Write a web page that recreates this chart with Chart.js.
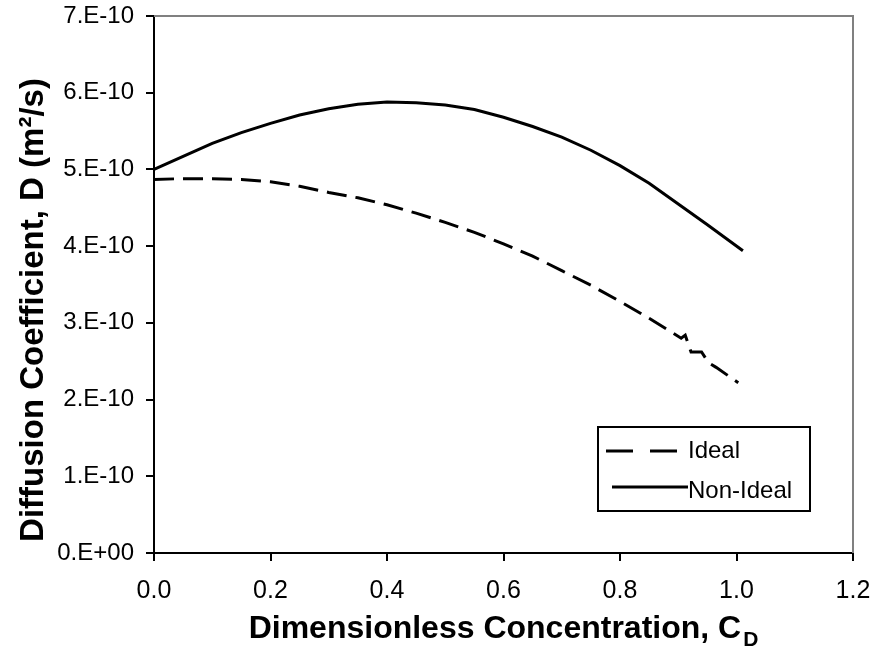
<!DOCTYPE html>
<html>
<head>
<meta charset="utf-8">
<script src="https://cdn.jsdelivr.net/npm/chart.js@4.4.1/dist/chart.umd.min.js"></script>
<style>
  html, body { margin: 0; padding: 0; background: #fff; }
  canvas { display: block; }
</style>
</head>
<body>
<canvas id="diffChart" width="878" height="649"></canvas>
<script>
// Ideal curve (dashed)
const idealX = [0.0, 0.05, 0.1, 0.15, 0.2, 0.25, 0.3, 0.35, 0.4, 0.45, 0.5, 0.55, 0.6, 0.65, 0.7, 0.75, 0.8, 0.85, 0.905, 0.912, 0.922, 0.94, 0.952, 0.965, 1.003];
const idealY = [4.87e-10, 4.88e-10, 4.88e-10, 4.87e-10, 4.84e-10, 4.78e-10, 4.70e-10, 4.63e-10, 4.54e-10, 4.43e-10, 4.31e-10, 4.18e-10, 4.03e-10, 3.87e-10, 3.68e-10, 3.49e-10, 3.28e-10, 3.06e-10, 2.80e-10, 2.84e-10, 2.62e-10, 2.62e-10, 2.48e-10, 2.42e-10, 2.22e-10];

// Non-ideal curve (solid)
const nonIdealX = [0.0, 0.05, 0.1, 0.15, 0.2, 0.25, 0.3, 0.35, 0.4, 0.45, 0.5, 0.55, 0.6, 0.65, 0.7, 0.75, 0.8, 0.85, 0.9, 0.95, 1.011];
const nonIdealY = [5.00e-10, 5.17e-10, 5.34e-10, 5.48e-10, 5.60e-10, 5.71e-10, 5.79e-10, 5.85e-10, 5.88e-10, 5.87e-10, 5.84e-10, 5.78e-10, 5.68e-10, 5.56e-10, 5.42e-10, 5.25e-10, 5.05e-10, 4.82e-10, 4.55e-10, 4.28e-10, 3.94e-10];

const xTicks = [0, 0.2, 0.4, 0.6, 0.8, 1.0, 1.2];
const yTicks = [0, 1e-10, 2e-10, 3e-10, 4e-10, 5e-10, 6e-10, 7e-10];

const FONT = "'Liberation Sans', Arial, sans-serif";

function toPoints(xs, ys) {
	return xs.map((x, i) => ({ x: x, y: ys[i] }));
}

function sciLabel(v) {
	const n = Math.round(v / 1e-10);
	return n === 0 ? "0.E+00" : n + ".E-10";
}

// frame, legend and axis titles
const decorations = {
	id: 'decorations',
	afterDraw(chart) {
		const ctx = chart.ctx;
		const a = chart.chartArea;
		ctx.save();

		// grey top/right frame
		ctx.strokeStyle = '#808080';
		ctx.lineWidth = 2;
		ctx.beginPath();
		ctx.moveTo(a.left, a.top);
		ctx.lineTo(a.right, a.top);
		ctx.lineTo(a.right, a.bottom);
		ctx.stroke();

		// legend
		const ds = chart.data.datasets;
		ctx.fillStyle = '#fff';
		ctx.fillRect(598, 427, 212, 84);
		ctx.strokeStyle = '#000';
		ctx.lineWidth = 2;
		ctx.strokeRect(598, 427, 212, 84);

		ctx.lineWidth = 3;
		ctx.setLineDash([27, 17]);
		ctx.beginPath();
		ctx.moveTo(606, 451);
		ctx.lineTo(678, 451);
		ctx.stroke();
		ctx.setLineDash([]);
		ctx.beginPath();
		ctx.moveTo(612, 487);
		ctx.lineTo(688, 487);
		ctx.stroke();

		ctx.fillStyle = '#000';
		ctx.font = '24px ' + FONT;
		ctx.textBaseline = 'middle';
		ctx.textAlign = 'left';
		ctx.fillText(ds[0].label, 688, 451);
		ctx.fillText(ds[1].label, 688, 491);

		// x title with subscript
		const main = 'Dimensionless Concentration, C';
		const sub = 'D';
		ctx.font = 'bold 32px ' + FONT;
		const wMain = ctx.measureText(main).width;
		ctx.font = 'bold 21px ' + FONT;
		const wSub = ctx.measureText(sub).width;
		let x0 = (a.left + a.right) / 2 - (wMain + wSub + 2) / 2;
		ctx.textBaseline = 'alphabetic';
		ctx.font = 'bold 32px ' + FONT;
		ctx.fillText(main, x0, 638);
		ctx.font = 'bold 21px ' + FONT;
		ctx.fillText(sub, x0 + wMain + 2, 646);

		// y title
		ctx.translate(43, 310);
		ctx.rotate(-Math.PI / 2);
		ctx.font = 'bold 33px ' + FONT;
		ctx.textAlign = 'center';
		ctx.textBaseline = 'alphabetic';
		ctx.fillText('Diffusion Coefficient, D (m\u00B2/s)', 0, 0);

		ctx.restore();
	}
};

const diffChart = new Chart(document.getElementById('diffChart'), {
	type: 'line',
	data: {
		datasets: [
			{
				label: 'Ideal',
				data: toPoints(idealX, idealY),
				borderColor: '#000',
				borderWidth: 3,
				borderDash: [20, 9],
				pointRadius: 0,
				tension: 0,
				fill: false
			},
			{
				label: 'Non-Ideal',
				data: toPoints(nonIdealX, nonIdealY),
				borderColor: '#000',
				borderWidth: 3,
				pointRadius: 0,
				tension: 0,
				fill: false
			}
		]
	},
	options: {
		responsive: false,
		animation: false,
		layout: { padding: { left: 0, right: 25, top: 16, bottom: 0 } },
		plugins: {
			legend: { display: false },
			tooltip: { enabled: false }
		},
		scales: {
			x: {
				type: 'linear',
				min: 0,
				max: 1.2,
				afterBuildTicks: (s) => { s.ticks = xTicks.map(v => ({ value: v })); },
				afterFit: (s) => { s.height = 96; s.paddingLeft = 0; s.paddingRight = 0; },
				ticks: {
					callback: (v) => Number(v).toFixed(1),
					color: '#000',
					font: { size: 25, family: FONT },
					padding: 15,
					maxRotation: 0
				},
				grid: { display: true, drawOnChartArea: false, drawTicks: true, tickLength: 8, color: '#000', lineWidth: 2 },
				border: { display: true, color: '#000', width: 2 }
			},
			y: {
				type: 'linear',
				min: 0,
				max: 7e-10,
				afterBuildTicks: (s) => { s.ticks = yTicks.map(v => ({ value: v })); },
				afterFit: (s) => { s.width = 154; s.paddingTop = 0; s.paddingBottom = 0; },
				ticks: {
					callback: (v) => sciLabel(v),
					color: '#000',
					font: { size: 24, family: FONT },
					padding: 12
				},
				grid: { display: true, drawOnChartArea: false, drawTicks: true, tickLength: 8, color: '#000', lineWidth: 2 },
				border: { display: true, color: '#000', width: 2 }
			}
		}
	},
	plugins: [decorations]
});
</script>
</body>
</html>
